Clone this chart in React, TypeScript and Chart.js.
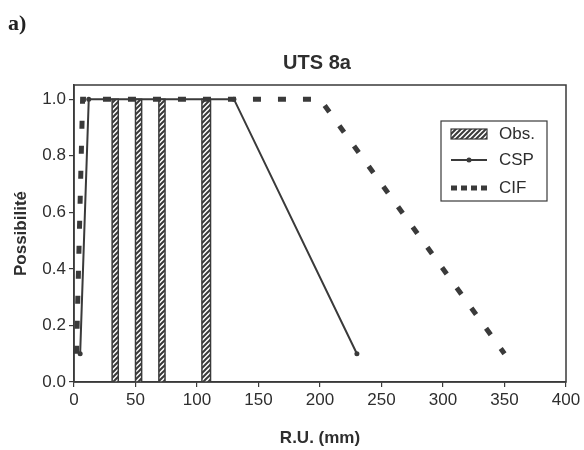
import { useEffect, useRef } from "react";
import { Chart, registerables } from "chart.js";

Chart.register(...registerables);

// ---- data ----
const obsStart = [31, 50, 69, 104];
const obsEnd = [36, 55, 74, 111];
const obsLevel = 1.0;
const cspX = [5, 12, 130, 230];
const cspY = [0.1, 1.0, 1.0, 0.1];
const cifX = [2, 7, 200, 350];
const cifY = [0.1, 1.0, 1.0, 0.1];
const xTicks = [0, 50, 100, 150, 200, 250, 300, 350, 400];
const yTicks = [0, 0.2, 0.4, 0.6, 0.8, 1.0];
const titleText = "UTS 8a";
const panelLabel = "a)";
const xTitle = "R.U. (mm)";
const yTitle = "Possibilité";
const legendLabels = ["Obs.", "CSP", "CIF"];

const INK = "#3a3a3a";
const TEXT = "#2e2e2e";
const FONT = "'Liberation Sans', Arial, sans-serif";

function makeHatch(): CanvasPattern | string {
  const c = document.createElement("canvas");
  c.width = 5;
  c.height = 5;
  const g = c.getContext("2d");
  if (!g) return "#888";
  g.fillStyle = "#fff";
  g.fillRect(0, 0, 5, 5);
  g.strokeStyle = INK;
  g.lineWidth = 2;
  g.beginPath();
  g.moveTo(-1, 6);
  g.lineTo(6, -1);
  g.moveTo(-1, 1);
  g.lineTo(1, -1);
  g.moveTo(4, 6);
  g.lineTo(6, 4);
  g.stroke();
  const p = g.createPattern(c, "repeat");
  return p || "#888";
}

export default function App() {
  const ref = useRef<HTMLCanvasElement | null>(null);

  useEffect(() => {
    if (!ref.current) return;
    const hatch = makeHatch();

    const barSets = obsStart.map((a, i) => ({
      label: legendLabels[0],
      data: [
        { x: a, y: 0 },
        { x: a, y: obsLevel },
        { x: obsEnd[i], y: obsLevel },
        { x: obsEnd[i], y: 0 },
      ],
      showLine: true,
      fill: "origin" as const,
      backgroundColor: hatch,
      borderColor: INK,
      borderWidth: 1.5,
      pointRadius: 0,
      order: 2,
    }));

    const decor = {
      id: "decor",
      afterDraw(chart: any) {
        const ctx = chart.ctx as CanvasRenderingContext2D;
        const ca = chart.chartArea;
        ctx.save();
        // plot frame
        ctx.strokeStyle = INK;
        ctx.lineWidth = 1.5;
        ctx.strokeRect(ca.left, ca.top, ca.right - ca.left, ca.bottom - ca.top);
        // title
        ctx.fillStyle = TEXT;
        ctx.font = `bold 20px ${FONT}`;
        ctx.textAlign = "center";
        ctx.textBaseline = "middle";
        ctx.fillText(titleText, 317, 63);
        // panel label
        ctx.font = `bold 22px 'Liberation Serif', 'Times New Roman', serif`;
        ctx.textAlign = "left";
        ctx.textBaseline = "alphabetic";
        ctx.fillStyle = "#222";
        ctx.fillText(panelLabel, 8, 30);
        // legend
        const bx = ca.right - 125;
        const by = ca.top + 36;
        const bw = 106;
        const bh = 80;
        ctx.fillStyle = "#fff";
        ctx.fillRect(bx, by, bw, bh);
        ctx.strokeStyle = INK;
        ctx.lineWidth = 1.2;
        ctx.strokeRect(bx, by, bw, bh);
        const sx0 = bx + 10;
        const sx1 = bx + 46;
        const tx = bx + 58;
        const rows = [by + 13, by + 39, by + 67];
        // Obs swatch
        ctx.fillStyle = hatch as any;
        ctx.fillRect(sx0, rows[0] - 5, sx1 - sx0, 10);
        ctx.lineWidth = 1.2;
        ctx.strokeRect(sx0, rows[0] - 5, sx1 - sx0, 10);
        // CSP
        ctx.strokeStyle = INK;
        ctx.lineWidth = 2;
        ctx.beginPath();
        ctx.moveTo(sx0, rows[1]);
        ctx.lineTo(sx1, rows[1]);
        ctx.stroke();
        ctx.fillStyle = INK;
        ctx.beginPath();
        ctx.arc((sx0 + sx1) / 2, rows[1], 2.5, 0, Math.PI * 2);
        ctx.fill();
        // CIF
        ctx.lineWidth = 5;
        ctx.setLineDash([6, 4]);
        ctx.beginPath();
        ctx.moveTo(sx0, rows[2]);
        ctx.lineTo(sx1, rows[2]);
        ctx.stroke();
        ctx.setLineDash([]);
        // texts
        ctx.fillStyle = TEXT;
        ctx.font = `17px ${FONT}`;
        ctx.textBaseline = "middle";
        rows.forEach((r, i) => ctx.fillText(legendLabels[i], tx, r));
        ctx.restore();
      },
    };

    const chart = new Chart(ref.current, {
      type: "scatter",
      data: {
        datasets: [
          {
            label: legendLabels[1],
            data: cspX.map((x, i) => ({ x, y: cspY[i] })),
            showLine: true,
            borderColor: INK,
            backgroundColor: INK,
            borderWidth: 2,
            pointRadius: 2.5,
            pointBorderWidth: 0,
            order: 0,
          },
          {
            label: legendLabels[2],
            data: cifX.map((x, i) => ({ x, y: cifY[i] })),
            showLine: true,
            borderColor: INK,
            borderWidth: 5,
            borderDash: [8, 17],
            pointRadius: 0,
            order: 1,
          },
          ...barSets,
        ] as any,
      },
      options: {
        animation: false,
        responsive: false,
        layout: { padding: { top: 85, right: 18, left: 0, bottom: 0 } },
        plugins: {
          legend: { display: false },
          tooltip: { enabled: false },
          title: { display: false },
        },
        scales: {
          x: {
            type: "linear",
            min: 0,
            max: 400,
            afterBuildTicks: (s: any) => {
              s.ticks = xTicks.map((v) => ({ value: v }));
            },
            afterFit: (s: any) => {
              s.height = 68;
            },
            grid: { drawOnChartArea: false, drawTicks: true, tickLength: 5, color: INK, lineWidth: 1.2 },
            border: { display: true, color: INK, width: 1.5 },
            ticks: {
              color: TEXT,
              font: { size: 17, family: FONT },
              padding: 3,
              maxRotation: 0,
              autoSkip: false,
            },
            title: {
              display: true,
              text: xTitle,
              color: TEXT,
              font: { size: 17, weight: "bold", family: FONT },
              padding: { top: 0, bottom: 1 },
            },
          },
          y: {
            type: "linear",
            min: 0,
            max: 1.05,
            afterBuildTicks: (s: any) => {
              s.ticks = yTicks.map((v) => ({ value: v }));
            },
            afterFit: (s: any) => {
              s.width = 74;
            },
            grid: { drawOnChartArea: false, drawTicks: true, tickLength: 5, color: INK, lineWidth: 1.2 },
            border: { display: true, color: INK, width: 1.5 },
            ticks: {
              color: TEXT,
              font: { size: 17, family: FONT },
              padding: 3,
              autoSkip: false,
              callback: (v: any) => Number(v).toFixed(1),
            },
            title: {
              display: true,
              text: yTitle,
              color: TEXT,
              font: { size: 17, weight: "bold", family: FONT },
              padding: { top: 11, bottom: 0 },
            },
          },
        },
      },
      plugins: [decor],
    });

    return () => chart.destroy();
  }, []);

  return (
    <div style={{ position: "absolute", left: 0, top: 0, width: 584, height: 450, background: "#fff" }}>
      <canvas ref={ref} width={584} height={450} style={{ width: 584, height: 450, display: "block" }} />
    </div>
  );
}
